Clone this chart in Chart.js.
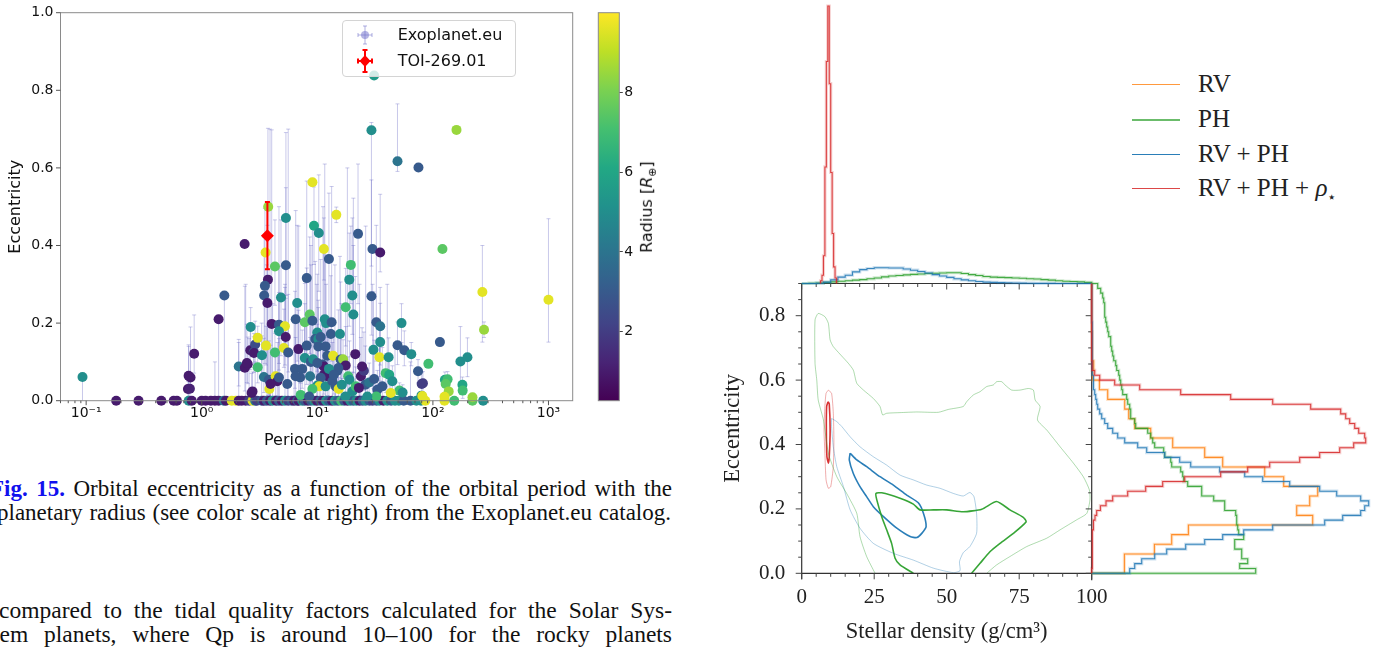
<!DOCTYPE html>
<html><head><meta charset="utf-8">
<script src="https://cdn.jsdelivr.net/npm/chart.js@4.4.0/dist/chart.umd.min.js"></script>
<style>
html,body{margin:0;padding:0;background:#fff;width:1382px;height:648px;overflow:hidden;position:relative;font-family:'DejaVu Sans',sans-serif;}
canvas{position:absolute;}
.cap{position:absolute;font-family:'Liberation Serif',serif;font-size:23px;line-height:24px;white-space:nowrap;color:#111;}
.fig{color:#1010ee;font-weight:bold;}
.lbl{position:absolute;white-space:nowrap;color:#111;}
.lg{position:absolute;font-family:'Liberation Serif',serif;font-size:25px;line-height:28px;white-space:nowrap;color:#222;}
.sw{position:absolute;height:0;}
</style></head><body>
<canvas id="scatter" width="590" height="460" style="left:0;top:0"></canvas>
<canvas id="cbar" width="80" height="420" style="left:590px;top:0"></canvas>
<canvas id="corner" width="430" height="378" style="left:700px;top:270px"></canvas>
<canvas id="topHist" width="400" height="290" style="left:700px;top:0"></canvas>
<canvas id="rightHist" width="297" height="378" style="left:1085px;top:270px"></canvas>

<div class="lbl" style="left:216.6px;width:200px;text-align:center;top:430px;font-size:16px;line-height:20px">Period [<i>days</i>]</div>
<div class="lbl" style="left:650px;top:207px;font-size:16px;line-height:20px;transform:translate(-50%,-50%) rotate(-90deg)">Radius [<i>R</i><sub style="font-size:11px">⊕</sub>]</div>

<div style="position:absolute;left:342px;top:20px;width:172px;height:55px;border:1px solid #d4d4d4;border-radius:4px;background:rgba(255,255,255,0.8)"></div>
<svg style="position:absolute;left:350px;top:22px" width="30" height="54">
  <g stroke="rgba(110,110,200,0.55)" stroke-width="1" fill="none">
    <line x1="15" y1="4" x2="15" y2="22"/><line x1="13" y1="4" x2="17" y2="4"/><line x1="13" y1="22" x2="17" y2="22"/>
    <line x1="8" y1="13" x2="22" y2="13"/><line x1="8" y1="11" x2="8" y2="15"/><line x1="22" y1="11" x2="22" y2="15"/>
  </g>
  <circle cx="15" cy="13" r="4" fill="rgba(120,120,205,0.55)"/>
  <g stroke="#ff0000" stroke-width="2" fill="none">
    <line x1="15" y1="28" x2="15" y2="50"/><line x1="12.5" y1="28" x2="17.5" y2="28"/><line x1="12.5" y1="50" x2="17.5" y2="50"/>
    <line x1="8" y1="39" x2="22" y2="39"/><line x1="8" y1="36.5" x2="8" y2="41.5"/><line x1="22" y1="36.5" x2="22" y2="41.5"/>
  </g>
  <polygon points="15,33 20.5,39 15,45 9.5,39" fill="#ff0000"/>
</svg>
<div class="lbl" style="left:397.7px;top:25px;font-size:16px;line-height:20px">Exoplanet.eu</div>
<div class="lbl" style="left:397.7px;top:51px;font-size:16px;line-height:20px">TOI-269.01</div>

<div id="legR"></div>

<div class="cap" data-l="-10" data-r="672" style="top:477px"><span class="t"><span class="fig">Fig. 15.</span> Orbital eccentricity as a function of the orbital period with the</span></div>
<div class="cap" data-l="-3" data-r="671" style="top:501px"><span class="t">planetary radius (see color scale at right) from the Exoplanet.eu catalog.</span></div>
<div class="cap" data-l="-1" data-r="672" style="top:598px;font-size:23.5px"><span class="t">compared to the tidal quality factors calculated for the Solar Sys-</span></div>
<div class="cap" data-l="-7" data-r="672" style="top:622px;font-size:23.5px"><span class="t">tem planets, where Qp is around 10–100 for the rocky planets</span></div>

<script>
// ---------------- LEFT PANEL DATA ----------------
const periodTickValues = [0.1, 1, 10, 100, 1000];
const periodTickLabels = ['10⁻¹', '10⁰', '10¹', '10²', '10³'];
const eccTickValues = [0, 0.2, 0.4, 0.6, 0.8, 1.0];
const eccTickLabels = ['0.0', '0.2', '0.4', '0.6', '0.8', '1.0'];
const cbTickValues = [2, 4, 6, 8];
const cbTickLabels = ['2', '4', '6', '8'];
const cbMin = 0.27, cbMax = 10.0;

const eccPeriod = [
0.093,0.77,0.80,0.76,0.79,0.86,1.40,1.57,2.35,2.09,
2.36,2.50,2.65,2.63,2.82,2.90,3.05,3.05,2.70,3.76,
3.57,4.30,5.35,5.35,9.07,9.36,10.3,14.6,22.5,11.4,
12.6,19.5,18.9,20.1,30.0,35.0,121,3.74,3.52,3.47,
3.70,4.85,4.03,4.66,5.25,4.66,6.7,6.5,8.1,8.6,
7.8,9.07,11.6,11.9,13.3,17.6,20.5,29.4,32.4,35.0,
35.0,30.6,53.5,49.4,56.6,65.0,115,173,199,91.4,
34.5,41.4,74.4,80,82,79.6,81,127,134,129,
137,126,180,181,220,31.0,29.4,49.4,75,160,
268,277,1000,2.46,2.83,3.32,3.60,4.30,2.75,3.45,
3.81,3.85,5.14,5.33,5.60,6.86,6.41,7.40,7.10,8.10,
7.80,8.80,9.20,10.0,9.60,10.2,10.7,10.2,11.8,12.2,
13.7,15.9,16.7,13.1,15.7,17.6,18.5,19.0,21.3,23.8,
20.1,26.0,28.1,31.0,33.1,32.4,36.5,39.1,41.9,44.6,
51.3,54.7,11.1,11.4,10.0,11.4,12.2,10.7,10.0,10.4,
9.07,11.8,13.5,14.4,15.3,16.3,15.2,14.9,12.6,13.9,
8.66,6.49,5.50,4.36,4.51,3.94,4.66,7.18,8.50,17.5,
21.5,27.1,43.2,25.3,22.9,24.4];
const eccValue = [
0.061,0.064,0.060,0.030,0.031,0.121,0.210,0.271,0.404,0.088,
0.085,0.094,0.190,0.130,0.125,0.145,0.162,0.086,0.020,0.500,
0.382,0.346,0.471,0.349,0.563,0.451,0.432,0.479,0.430,0.391,
0.365,0.350,0.312,0.271,0.391,0.382,0.391,0.312,0.296,0.271,
0.252,0.266,0.198,0.196,0.192,0.179,0.252,0.210,0.316,0.222,
0.202,0.206,0.210,0.200,0.202,0.241,0.222,0.269,0.202,0.192,
0.151,0.131,0.200,0.143,0.130,0.120,0.151,0.101,0.112,0.095,
0.112,0.112,0.076,0.043,0.045,0.013,0.012,0.054,0.055,0.043,
0.024,0.010,0.041,0.026,0.009,0.838,0.697,0.617,0.601,0.698,
0.280,0.183,0.260,0.097,0.123,0.117,0.142,0.124,0.024,0.061,
0.054,0.030,0.136,0.164,0.124,0.133,0.082,0.082,0.060,0.142,
0.110,0.100,0.107,0.176,0.159,0.159,0.164,0.140,0.140,0.116,
0.116,0.106,0.107,0.172,0.172,0.091,0.063,0.054,0.120,0.063,
0.024,0.041,0.047,0.056,0.028,0.011,0.037,0.071,0.067,0.050,
0.026,0.021,0.093,0.088,0.097,0.067,0.063,0.059,0.039,0.037,
0.030,0.037,0.050,0.037,0.030,0.041,0.084,0.077,0.082,0.067,
0.063,0.063,0.043,0.063,0.050,0.043,0.060,0.015,0.011,0.011,
0.037,0.011,0.020,0.077,0.033,0.088];
const eccRadius = [
5.0,1.0,1.0,1.0,1.2,1.0,1.0,3.0,1.0,4.0,
1.0,1.0,5.0,1.0,3.5,2.5,9.6,7.0,1.0,8.5,
9.6,7.5,5.0,3.0,9.6,6.0,5.0,9.6,3.0,9.6,
3.0,7.0,5.0,5.0,3.0,1.0,7.5,1.0,3.0,3.0,
1.0,5.0,1.0,3.0,9.6,5.0,5.0,3.0,3.0,7.5,
7.5,3.0,5.0,5.0,3.0,7.0,5.0,3.0,3.0,4.0,
5.0,5.0,5.0,3.0,3.0,5.0,3.0,5.0,5.0,7.0,
9.6,5.0,3.0,2.0,2.0,5.0,9.6,6.0,7.0,7.5,
8.5,9.6,6.0,7.0,8.5,5.5,5.0,4.0,3.0,8.5,
9.6,8.5,9.6,1.0,1.0,5.0,9.6,7.0,1.0,4.0,
3.0,9.6,9.6,1.0,3.0,1.0,3.0,3.0,3.0,3.0,
5.0,3.0,5.0,5.0,3.0,5.0,3.0,3.0,3.0,3.0,
9.6,3.0,8.5,3.0,5.0,1.0,7.0,5.0,1.0,1.0,
5.0,3.0,4.0,3.0,3.0,7.0,3.0,7.0,6.0,5.0,
7.0,5.0,3.0,1.0,3.0,1.0,1.0,3.0,5.0,9.6,
7.0,5.0,3.0,3.0,9.6,5.0,3.0,3.0,5.0,3.0,
4.0,3.0,3.0,9.6,1.0,1.0,3.0,7.0,3.0,5.0,
7.0,5.0,9.6,2.0,1.0,1.0];
const eccErrMinus = [
0.061,0.03,0.03,0.03,0.03,0.05,0.21,0.27,0,0.05,
0.06,0.05,0.05,0.05,0.04,0.05,0.03,0.04,0.02,0,
0,0.1,0.2,0.2,0.01,0.1,0.15,0.02,0.18,0.08,
0.15,0.1,0.12,0.1,0,0.05,0,0.3,0.2,0.15,
0.2,0.15,0.15,0.1,0.1,0.1,0.15,0.15,0.2,0.1,
0.1,0.2,0.1,0.1,0.1,0.1,0.15,0.1,0.1,0.1,
0.1,0.1,0.05,0.05,0.04,0.03,0,0.08,0.05,0,
0.05,0.05,0.03,0.03,0.03,0.01,0.01,0.02,0.02,0.02,
0.02,0.01,0.02,0.02,0.01,0.01,0.35,0.026,0,0,
0.129,0.02,0.109,0.05,0.05,0.05,0.05,0.05,0.02,0.04,
0.04,0.02,0.05,0.05,0.05,0.05,0.05,0.05,0.05,0.1,
0.05,0.05,0.05,0.1,0.1,0.1,0.1,0.1,0.1,0.05,
0.05,0.05,0.05,0.1,0.1,0.05,0.05,0.05,0.1,0.05,
0.02,0.04,0.04,0.05,0.02,0.01,0.03,0.05,0.05,0.04,
0.02,0.02,0.05,0.05,0.05,0.05,0.05,0.05,0.03,0.03,
0.03,0.03,0.05,0.03,0.03,0.04,0.05,0.05,0.05,0.05,
0.05,0.05,0.04,0.05,0.04,0.04,0.05,0.01,0.01,0.01,
0.03,0.01,0.02,0.05,0.03,0.05];
const eccErrPlus = [
0,0.08,0.13,0.02,0.03,0.10,0,0,0,0.07,
0.21,0.07,0.05,0.05,0.04,0.06,0.03,0.04,0.05,0,
0,0.12,0.22,0.2,0.01,0.1,0.15,0.02,0.18,0.08,
0.17,0.1,0.12,0.2,0,0.15,0,0.39,0.2,0.15,
0.2,0.2,0.5,0.15,0.1,0.1,0.2,0.28,0.25,0.2,
0.1,0.25,0.4,0.1,0.35,0.1,0.3,0.3,0.25,0.1,
0.1,0.15,0.05,0.06,0.05,0.03,0,0.09,0.05,0,
0.05,0.05,0.03,0.03,0.03,0.01,0.01,0.02,0.02,0.02,
0.02,0.01,0.02,0.02,0.01,0.01,0.02,0.148,0,0,
0.12,0.02,0.209,0.1,0.05,0.05,0.05,0.05,0.05,0.1,
0.1,0.02,0.1,0.1,0.15,0.1,0.2,0.1,0.15,0.2,
0.1,0.25,0.1,0.15,0.2,0.1,0.2,0.1,0.25,0.1,
0.05,0.2,0.05,0.15,0.2,0.1,0.05,0.1,0.2,0.1,
0.05,0.1,0.05,0.1,0.05,0.03,0.1,0.05,0.05,0.04,
0.02,0.02,0.1,0.3,0.1,0.1,0.1,0.1,0.05,0.03,
0.03,0.05,0.1,0.05,0.03,0.05,0.15,0.1,0.1,0.1,
0.1,0.1,0.1,0.05,0.1,0.1,0.1,0.03,0.05,0.03,
0.05,0.03,0.02,0.1,0.05,0.1];

const circPeriod = [
0.182,0.284,0.447,0.572,0.61,0.771,0.82,1.0,1.08,1.2,
1.3,1.40,1.55,1.62,1.82,1.97,2.09,2.22,2.4,2.57,
2.75,2.9,3.0,3.3,3.45,3.66,3.9,4.1,4.4,4.66,
4.94,5.25,5.6,6.0,6.3,6.7,6.9,7.4,7.8,8.3,
8.8,9.4,9.9,10.6,11.2,11.9,12.6,13.4,14.2,15.1,
16.1,17.1,18.2,19.3,20.5,21.8,23.2,24.7,26.2,28.3,
30.1,32.5,34.5,37.3,40.3,43.5,47.0,50.8,55.9,64,
72,79,86,126,153,220,272];
const circRadius = [
1.0,1.0,1.0,1.0,1.0,5.0,1.0,1.0,1.0,1.0,
1.0,1.0,4.0,1.0,9.6,9.6,1.0,1.0,1.0,2.0,
9.6,4.0,2.0,3.0,1.0,3.0,1.0,5.0,1.0,3.0,
1.0,5.0,2.0,3.0,1.0,3.0,1.0,5.0,3.0,1.0,
3.0,5.0,1.0,3.0,1.0,5.0,3.0,1.0,5.0,3.0,
7.0,3.0,1.0,5.0,3.0,5.0,1.0,3.0,5.0,3.0,
2.0,3.0,5.0,1.0,5.0,3.0,5.0,5.0,3.0,3.0,
5.0,5.0,9.6,9.6,7.0,7.5,5.0];
const circErrPlus = [
0,0,0,0,0,0.14,0,0,0,0,
0.1,0,0,0,0,0,0.15,0,0.3,0.16,
0,0.1,0,0.2,0,0.35,0.7,0.25,0,0.5,
0,0.3,0.7,0,0.2,0,0.45,0,0.25,0,
0.4,0,0.3,0,0.5,0,0.2,0,0.35,0,
0.25,0,0.6,0,0.4,0,0.3,0,0.45,0,
0.3,0,0.2,0,0.3,0,0.15,0,0,0.1,
0,0,0,0,0,0,0];

const toiPeriod = [3.70];
const toiEcc = [0.425];
const toiErrMinus = [0.086];
const toiErrPlus = [0.087];

// ---------------- RIGHT PANEL DATA ----------------
const densTickValues = [0, 25, 50, 75, 100];
const densTickLabels = ['0', '25', '50', '75', '100'];
const cornerEccTickValues = [0, 0.2, 0.4, 0.6, 0.8];
const cornerEccTickLabels = ['0.0', '0.2', '0.4', '0.6', '0.8'];

const densBinWidth = 2.5;
const densHistPH = [0,0.1,0.2,0.4,0.6,0.8,1.0,1.2,1.4,1.7,
2.0,2.4,2.7,2.9,3.1,3.3,3.4,3.6,3.7,3.8,
3.9,3.9,3.6,3.2,2.9,2.5,2.3,2.2,2.1,2.0,
1.9,1.7,1.6,1.4,1.2,1.0,0.8,0.7,0.6,0.4];
const densHistRVPH = [0,0,0.1,0.5,1.3,2.3,3.0,4.2,5.0,5.4,
5.7,5.7,5.6,5.6,5.2,4.8,4.3,3.8,3.2,2.7,
2.2,1.7,1.3,1.0,0.7,0.5,0.4,0.3,0.25,0.2,
0.15,0.1,0.05,0.05,0.05,0,0,0,0,0];
const densRhoStart = 6.5, densRhoBinWidth = 0.5;
const densHistRho = [1,3,10,42,80,100,72,40,18,6,2];

const eccBinWidthRV = 0.03;
const eccHistRV = [32.7,32.7,62.7,80,96.7,221,205,218,226,192,
173,131,113,81,59,43,37,33,16,7.7,
1,2,0.3,0.3,1,0,0,0,0,0];
const eccBinWidth = 0.015;
const eccHistPH = [164,148,156,150,150,143,143,152,147,146,
145,145,144,133,133,122,110,110,96,92,
91,89,80,79,73,72,63,61,59,56,
44,43,39,39,38,36,35,31,30,29,
28,27,25,24,22,21,20,19,19,17,
16,15,14,13,13,13,12,11,9,6];
const eccHistRVPH = [38,43,50,63,75,94,113,131,152,181,
233,251,269,273,277,269,245,228,198,171,
153,128,99,88,73,55,46,33,26,21,
16,13,10,8,6,5,4,3,2,2,
1.5,1,1,1,0.8,0.7,0.6,0.5,0.5,0.4,
0.3,0.3,0.2,0.2,0.1,0.1,0.1,0,0,0];
const eccHistRho = [0,0.3,0.3,0.5,0.5,0.7,0.7,1,1,1.3,
2,3.3,5,8.7,14.3,21,36,54,71,93,
129,156,178,208,228,248,262,274,273,267,
263,258,254,249,219,181,139,89,48,23,
8,3,1,0.3,0,0,0,0,0,0,
0,0,0,0,0,0,0,0,0,0];

const phOuter = [[25.3,0],[22.4,0.052],[20.1,0.114],[19.0,0.186],[15.5,0.248],[12.1,0.300],[9.2,0.373],[7.5,0.476],[5.7,0.538],[5.2,0.600],[4.6,0.652],[4.6,0.787],[5.7,0.807],[8.0,0.797],[9.2,0.776],[9.8,0.725],[10.9,0.704],[16.1,0.652],[17.8,0.631],[19.0,0.590],[21.3,0.569],[24.7,0.543],[27.0,0.518],[27.9,0.492],[29.3,0.497],[33.9,0.499],[39.7,0.501],[47.1,0.500],[50.6,0.509],[55.7,0.518],[56.9,0.533],[59.2,0.554],[61.5,0.564],[63.8,0.580],[66.1,0.585],[67.2,0.595],[69.0,0.595],[70.1,0.585],[72.4,0.569],[75.3,0.569],[78.2,0.574],[79.9,0.569],[80.5,0.538],[82.2,0.518],[81.3,0.476],[84.5,0.445],[89.1,0.393],[93.7,0.342],[97.1,0.300],[99.2,0.259],[99.4,0.228],[98.3,0.186],[94.8,0.166],[89.1,0.135],[84.5,0.109],[77.6,0.083],[71.8,0.052],[67.2,0.026],[63.8,0]];
const phInner = [[38.5,0],[33.9,0.026],[32.2,0.047],[31.0,0.093],[29.3,0.135],[27.6,0.176],[25.9,0.228],[25.6,0.248],[27.6,0.250],[33.9,0.233],[38.5,0.215],[40.8,0.197],[45.4,0.197],[50.0,0.197],[55.7,0.191],[62.1,0.199],[67.2,0.223],[71.8,0.197],[76.4,0.174],[77.4,0.160],[73.0,0.124],[68.4,0.093],[64.9,0.067],[61.5,0.031],[58.6,0]];
const rvphOuter = [[10.3,0.481],[12.1,0.471],[13.8,0.456],[16.7,0.424],[20.1,0.393],[24.7,0.362],[29.3,0.336],[33.9,0.305],[38.5,0.290],[43.1,0.274],[47.7,0.264],[52.3,0.248],[55.7,0.240],[58.0,0.251],[59.4,0.238],[60.3,0.186],[60.3,0.124],[58.0,0.083],[55.7,0.064],[54.4,0.036],[54.6,0.008],[52.3,0.002],[45.4,0.016],[38.5,0.041],[31.6,0.062],[24.7,0.093],[20.1,0.140],[16.7,0.197],[14.4,0.269],[12.1,0.331],[10.9,0.393],[10.3,0.456],[10.3,0.481]];
const rvphInner = [[16.7,0.373],[19.0,0.352],[22.4,0.331],[27.0,0.300],[31.6,0.274],[36.2,0.243],[40.2,0.219],[42.0,0.186],[42.9,0.145],[41.4,0.124],[39.7,0.111],[37.4,0.114],[32.8,0.140],[28.2,0.176],[24.7,0.207],[22.4,0.238],[20.1,0.269],[17.8,0.310],[16.4,0.352],[16.7,0.373]];
const rhoOuter = [[9.2,0.569],[10.3,0.559],[10.9,0.497],[11.1,0.414],[10.9,0.331],[10.0,0.269],[9.2,0.264],[8.4,0.290],[8.0,0.373],[7.7,0.445],[8.0,0.518],[8.4,0.559],[9.2,0.569]];
const rhoInner = [[9.1,0.533],[9.5,0.526],[9.8,0.445],[9.5,0.362],[9.2,0.342],[8.7,0.362],[8.5,0.445],[8.6,0.518],[9.1,0.533]];

const cornerLegendLabels = ['RV', 'PH', 'RV + PH', 'RV + PH + <i>ρ</i><sub style="font-size:15px">⋆</sub>'];
const cornerLegendColors = ['rgba(255,127,14,0.8)', 'rgba(44,160,44,0.7)', 'rgba(31,119,180,0.95)', 'rgba(214,39,40,0.85)'];
const cornerLegendWidths = [1.5, 2.5, 1.5, 1.5];

// ---------------- helpers ----------------
const viridisStops = [[68,1,84],[72,36,117],[65,68,135],[53,95,141],[42,120,142],[33,145,140],[34,168,132],[68,191,112],[122,209,81],[189,223,38],[253,231,37]];
function viridis(t){
  t = Math.min(1, Math.max(0, t));
  const s = t * 10, i = Math.min(9, Math.floor(s)), f = s - i;
  const a = viridisStops[i], b = viridisStops[i + 1];
  return 'rgb(' + [0,1,2].map(k => Math.round(a[k] + (b[k] - a[k]) * f)).join(',') + ')';
}
const radiusColor = r => viridis((r - cbMin) / (cbMax - cbMin));
function fixV(w) { return s => { s.width = w; s.paddingTop = 0; s.paddingBottom = 0; }; }
function fixH(h) { return s => { s.height = h; s.paddingLeft = 0; s.paddingRight = 0; }; }

Chart.defaults.font.family = "'DejaVu Sans', sans-serif";
Chart.defaults.animation = false;
Chart.defaults.plugins.legend.display = false;
Chart.defaults.plugins.tooltip.enabled = false;

// ---------------- LEFT SCATTER ----------------
const errorBarPlugin = {
  id: 'errorBars',
  beforeDatasetsDraw(chart) {
    const {ctx, scales: {x, y}} = chart;
    ctx.save();
    function bar(p, e, lo, hi, cap) {
      if (lo <= 0 && hi <= 0) return;
      const px = x.getPixelForValue(p);
      const y1 = y.getPixelForValue(Math.max(0, e - lo)), y2 = y.getPixelForValue(Math.min(1, e + hi));
      ctx.beginPath();
      ctx.moveTo(px, y1); ctx.lineTo(px, y2);
      if (hi > 0) { ctx.moveTo(px - cap, y2); ctx.lineTo(px + cap, y2); }
      if (lo > 0 && e - lo > 0) { ctx.moveTo(px - cap, y1); ctx.lineTo(px + cap, y1); }
      ctx.stroke();
    }
    ctx.strokeStyle = 'rgba(90,90,190,0.33)';
    ctx.lineWidth = 1;
    circPeriod.forEach((p, i) => bar(p, 0, 0, circErrPlus[i], 2));
    eccPeriod.forEach((p, i) => bar(p, eccValue[i], eccErrMinus[i], eccErrPlus[i], 2));
    ctx.restore();
  },
  afterDatasetsDraw(chart) {
    const {ctx, scales: {x, y}} = chart;
    ctx.save();
    ctx.strokeStyle = '#ff0000'; ctx.lineWidth = 2;
    toiPeriod.forEach((p, i) => {
      const px = x.getPixelForValue(p);
      const y1 = y.getPixelForValue(toiEcc[i] - toiErrMinus[i]), y2 = y.getPixelForValue(toiEcc[i] + toiErrPlus[i]);
      ctx.beginPath();
      ctx.moveTo(px, y1); ctx.lineTo(px, y2);
      ctx.moveTo(px - 2.5, y1); ctx.lineTo(px + 2.5, y1);
      ctx.moveTo(px - 2.5, y2); ctx.lineTo(px + 2.5, y2);
      ctx.stroke();
    });
    ctx.restore();
  }
};
const leftAxesPlugin = {
  id: 'leftAxes',
  afterDraw(chart) {
    const {ctx, chartArea: a, scales: {x, y}} = chart;
    ctx.save();
    ctx.strokeStyle = '#8a8a8a'; ctx.lineWidth = 1;
    ctx.strokeRect(a.left, a.top, a.right - a.left, a.bottom - a.top);
    ctx.strokeStyle = '#555';
    ctx.beginPath();
    periodTickValues.forEach(v => { const px = x.getPixelForValue(v); ctx.moveTo(px, a.bottom); ctx.lineTo(px, a.bottom + 4.5); });
    for (let d = -2; d <= 3; d++) for (let k = 2; k <= 9; k++) {
      const v = k * Math.pow(10, d);
      if (v < x.min || v > x.max) continue;
      const px = x.getPixelForValue(v); ctx.moveTo(px, a.bottom); ctx.lineTo(px, a.bottom + 2.5);
    }
    eccTickValues.forEach(v => { const py = y.getPixelForValue(v); ctx.moveTo(a.left, py); ctx.lineTo(a.left - 4.5, py); });
    ctx.stroke();
    ctx.restore();
  }
};

new Chart(document.getElementById('scatter'), {
  type: 'scatter',
  data: { datasets: [
    { data: toiPeriod.map((p, i) => ({x: p, y: toiEcc[i]})), pointStyle: 'rectRot', pointRadius: 6.5, backgroundColor: '#ff0000', borderWidth: 0, clip: false },
    { data: eccPeriod.map((p, i) => ({x: p, y: eccValue[i]})), backgroundColor: eccRadius.map(radiusColor), pointRadius: 5, borderWidth: 0, clip: false },
    { data: circPeriod.map(p => ({x: p, y: 0})), backgroundColor: circRadius.map(radiusColor), pointRadius: 5, borderWidth: 0, clip: false }
  ]},
  options: {
    responsive: false,
    layout: { padding: { left: 0, right: 17.3, top: 12.7, bottom: 0 } },
    scales: {
      x: { type: 'logarithmic', min: 0.06, max: 1620,
        afterBuildTicks: s => { s.ticks = periodTickValues.map(v => ({value: v})); },
        afterFit: fixH(59.3),
        grid: { display: false, drawTicks: false }, border: { display: false },
        ticks: { callback: (v, i) => periodTickLabels[i], padding: 4, font: { size: 14 }, color: '#111', autoSkip: false, maxRotation: 0 } },
      y: { min: 0, max: 1,
        afterBuildTicks: s => { s.ticks = eccTickValues.map(v => ({value: v})); },
        afterFit: fixV(60.5),
        grid: { display: false, drawTicks: false }, border: { display: false },
        ticks: { callback: (v, i) => eccTickLabels[i], padding: 7, font: { size: 14 }, color: '#111' },
        title: { display: true, text: 'Eccentricity', font: { size: 16 }, color: '#111', padding: { top: 6, bottom: 0 } } }
    }
  },
  plugins: [errorBarPlugin, leftAxesPlugin]
});

// ---------------- COLORBAR ----------------
new Chart(document.getElementById('cbar'), {
  type: 'bar',
  data: { labels: [''], datasets: [{
    data: [[cbMin, cbMax]], barPercentage: 1, categoryPercentage: 1, borderWidth: 0,
    backgroundColor: (c) => {
      const ch = c.chart;
      if (!ch.chartArea) return viridis(0.5);
      const ys = ch.scales.y;
      const g = ch.ctx.createLinearGradient(0, ys.getPixelForValue(cbMin), 0, ys.getPixelForValue(cbMax));
      for (let k = 0; k <= 10; k++) g.addColorStop(k / 10, viridis(k / 10));
      return g;
    }
  }]},
  options: {
    responsive: false,
    layout: { padding: { left: 8.3, right: 0, top: 12.7, bottom: 19.3 } },
    scales: {
      x: { display: false },
      y: { position: 'right', min: cbMin, max: cbMax,
        afterBuildTicks: s => { s.ticks = cbTickValues.map(v => ({value: v})); },
        afterFit: fixV(50.7),
        grid: { drawOnChartArea: false, drawTicks: true, tickLength: 3.5, tickColor: '#444' },
        border: { display: false },
        ticks: { callback: (v, i) => cbTickLabels[i], padding: 1.5, font: { size: 14 }, color: '#111' } }
    }
  },
  plugins: [{ id: 'cbFrame', afterDraw(chart) {
    const {ctx, chartArea: a} = chart;
    ctx.save(); ctx.strokeStyle = '#8a8a8a'; ctx.lineWidth = 1;
    ctx.strokeRect(a.left, a.top, a.right - a.left, a.bottom - a.top); ctx.restore();
  }}]
});

// ---------------- CORNER MAIN PANEL ----------------
const serif = "'Liberation Serif', 'DejaVu Serif', serif";
function contourDS(pts, color, w) {
  return { data: pts.map(p => ({x: p[0], y: p[1]})), showLine: true, pointRadius: 0, borderColor: color, borderWidth: w, tension: 0.2, fill: false };
}
const cornerAxesPlugin = {
  id: 'cornerAxes',
  afterDraw(chart) {
    const {ctx, chartArea: a, scales: {x, y}} = chart;
    ctx.save();
    ctx.strokeStyle = '#333'; ctx.lineWidth = 1.2;
    ctx.beginPath();
    ctx.moveTo(a.left, a.top); ctx.lineTo(a.left, a.bottom + 6);
    ctx.moveTo(a.left, a.bottom); ctx.lineTo(a.right, a.bottom);
    ctx.moveTo(a.left, a.top); ctx.lineTo(a.right, a.top);
    ctx.moveTo(a.right, a.top); ctx.lineTo(a.right, a.bottom + 7);
    ctx.stroke();
    ctx.lineWidth = 1; ctx.strokeStyle = '#444';
    ctx.beginPath();
    for (let v = 0; v <= 100.001; v += 5) {
      const L = densTickValues.includes(Math.round(v)) ? 6 : 3.5;
      const px = x.getPixelForValue(v);
      ctx.moveTo(px, a.bottom); ctx.lineTo(px, a.bottom + L);
      ctx.moveTo(px, a.top); ctx.lineTo(px, a.top + L);
    }
    for (let k = 0; k <= 18; k++) {
      const v = k * 0.05;
      const L = (k % 4 === 0) ? 6 : 3.5;
      const py = y.getPixelForValue(v);
      ctx.moveTo(a.left, py); ctx.lineTo(a.left - L, py);
      ctx.moveTo(a.right, py); ctx.lineTo(a.right - L, py);
    }
    ctx.stroke();
    ctx.restore();
  }
};
new Chart(document.getElementById('corner'), {
  type: 'scatter',
  data: { datasets: [
    contourDS(phOuter, 'rgba(44,160,44,0.38)', 1),
    contourDS(rvphOuter, 'rgba(31,119,180,0.35)', 1),
    contourDS(rhoOuter, 'rgba(214,39,40,0.38)', 1),
    contourDS(phInner, 'rgba(44,160,44,0.95)', 1.6),
    contourDS(rvphInner, 'rgba(31,119,180,0.95)', 1.6),
    contourDS(rhoInner, 'rgba(214,39,40,0.95)', 1.6)
  ]},
  options: {
    responsive: false,
    layout: { padding: { left: 0, right: 38.3, top: 13.5, bottom: 0 } },
    scales: {
      x: { min: 0, max: 100,
        afterBuildTicks: s => { s.ticks = densTickValues.map(v => ({value: v})); },
        afterFit: fixH(74.7),
        grid: { display: false, drawTicks: false }, border: { display: false },
        ticks: { callback: (v, i) => densTickLabels[i], padding: 12, font: { family: serif, size: 21 }, color: '#222', autoSkip: false, maxRotation: 0 },
        title: { display: true, text: 'Stellar density (g/cm³)', font: { family: serif, size: 22.5 }, color: '#222', padding: { top: 0, bottom: 2 } } },
      y: { min: 0, max: 0.9,
        afterBuildTicks: s => { s.ticks = cornerEccTickValues.map(v => ({value: v})); },
        afterFit: fixV(101.7),
        grid: { display: false, drawTicks: false }, border: { display: false },
        ticks: { callback: (v, i) => cornerEccTickLabels[i], padding: 16.5, font: { family: serif, size: 21 }, color: '#222' },
        title: { display: true, text: 'Eccentricity', font: { family: serif, size: 22.5 }, color: '#222', padding: { top: 20, bottom: 0 } } }
    }
  },
  plugins: [cornerAxesPlugin]
});

// ---------------- MARGINAL HISTOGRAMS ----------------
function stepX(vals, start, w) {
  const pts = [{x: start, y: 0}];
  vals.forEach((v, i) => { pts.push({x: start + i * w, y: v}); pts.push({x: start + (i + 1) * w, y: v}); });
  pts.push({x: start + vals.length * w, y: 0});
  return pts;
}
function stepY(vals, start, w) {
  const pts = [{x: 0, y: start}];
  vals.forEach((v, i) => { pts.push({x: v, y: start + i * w}); pts.push({x: v, y: start + (i + 1) * w}); });
  pts.push({x: 0, y: start + vals.length * w});
  return pts;
}
function histDS(pts, rgb) {
  return [
    { data: pts, showLine: true, pointRadius: 0, borderColor: 'rgba(' + rgb + ',0.22)', borderWidth: 3.2, tension: 0, clip: 4 },
    { data: pts, showLine: true, pointRadius: 0, borderColor: 'rgba(' + rgb + ',0.85)', borderWidth: 1.1, tension: 0, clip: 4 }
  ];
}
const cOrange = '255,127,14', cGreen = '44,160,44', cBlue = '31,119,180', cRed = '214,39,40';

new Chart(document.getElementById('topHist'), {
  type: 'scatter',
  data: { datasets: [
    ...histDS(stepX(densHistRho, densRhoStart, densRhoBinWidth), cRed),
    ...histDS(stepX(densHistRVPH, 0, densBinWidth), cBlue),
    ...histDS(stepX(densHistPH, 0, densBinWidth), cGreen)
  ]},
  options: {
    responsive: false,
    layout: { padding: { left: 101.7, right: 8.3, top: 6, bottom: 6.5 } },
    scales: { x: { display: false, min: 0, max: 100 }, y: { display: false, min: 0, max: 100 } }
  }
});

new Chart(document.getElementById('rightHist'), {
  type: 'scatter',
  data: { datasets: [
    ...histDS(stepY(eccHistRho, 0, eccBinWidth), cRed),
    ...histDS(stepY(eccHistRVPH, 0, eccBinWidth), cBlue),
    ...histDS(stepY(eccHistPH, 0, eccBinWidth), cGreen),
    ...histDS(stepY(eccHistRV, 0, eccBinWidthRV), cOrange)
  ]},
  options: {
    responsive: false,
    layout: { padding: { left: 6.7, right: 5.3, top: 13.5, bottom: 74.7 } },
    scales: { x: { display: false, min: 0, max: 285 }, y: { display: false, min: 0, max: 0.9 } }
  }
});

// ---------------- corner legend ----------------
(function(){
  const host = document.getElementById('legR');
  const ys = [85, 120, 154.5, 189];
  cornerLegendLabels.forEach((lab, i) => {
    const sw = document.createElement('div');
    sw.className = 'sw';
    sw.style.cssText = 'left:1131.5px;width:48.5px;top:' + (ys[i] - cornerLegendWidths[i] / 2) + 'px;border-top:' + cornerLegendWidths[i] + 'px solid ' + cornerLegendColors[i];
    host.appendChild(sw);
    const t = document.createElement('div');
    t.className = 'lg';
    t.style.left = '1198px';
    t.style.top = (ys[i] - 15) + 'px';
    t.innerHTML = lab;
    host.appendChild(t);
  });
})();

// ---------------- justify caption lines ----------------
document.querySelectorAll('.cap').forEach(el => {
  const l = parseFloat(el.dataset.l), r = parseFloat(el.dataset.r);
  el.style.left = l + 'px';
  const span = el.querySelector('span.t');
  const w = span.getBoundingClientRect().width;
  const n = (span.textContent.match(/ /g) || []).length;
  if (n > 0) span.style.wordSpacing = ((r - l - w) / n) + 'px';
});
</script>
</body></html>
